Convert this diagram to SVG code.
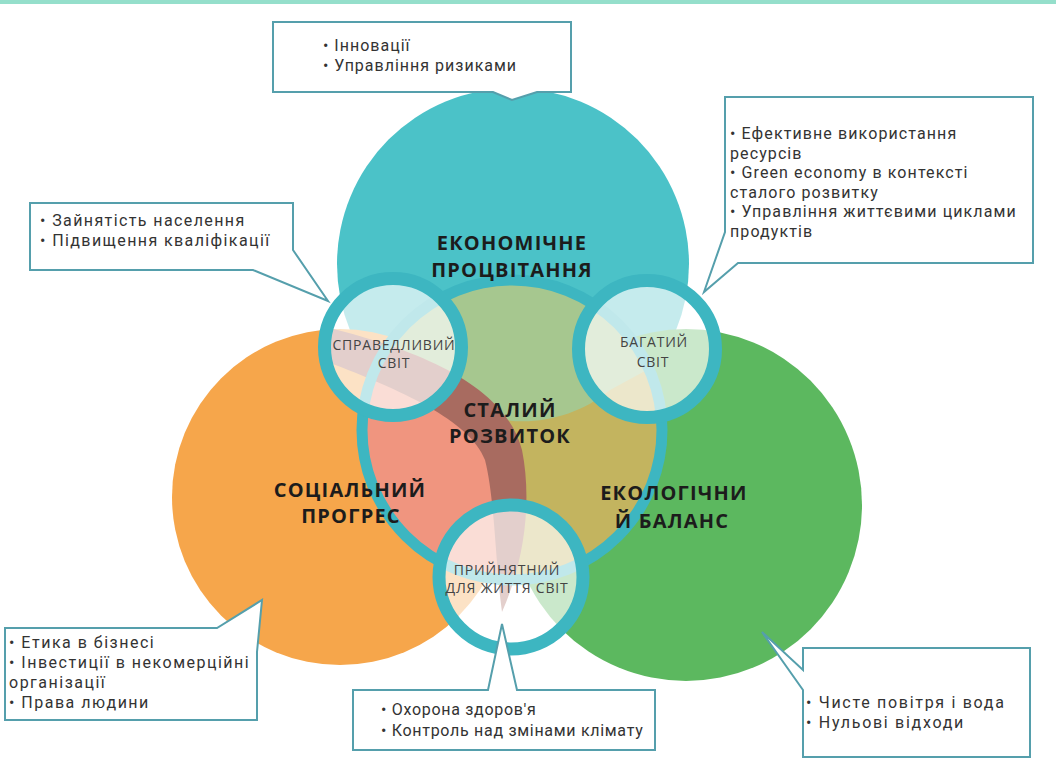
<svg xmlns="http://www.w3.org/2000/svg" width="1056" height="777" viewBox="0 0 1056 777">
<style>
.box{fill:#fff;stroke:#559fac;stroke-width:2;stroke-linejoin:miter}
.t{font-family:Roboto,"Liberation Sans",sans-serif;font-size:16px;fill:#333}
.h{font-family:"Open Sans","Liberation Sans",sans-serif;font-size:20px;font-weight:700;fill:#1c1c1c;text-anchor:middle;letter-spacing:1.2px}
.s{font-family:"Open Sans","Liberation Sans",sans-serif;font-size:14px;fill:#444;text-anchor:middle;letter-spacing:0.8px}
.lens{fill:#fff;fill-opacity:.68;stroke:#3db6c1;stroke-width:13}
</style>
<defs>
<clipPath id="inner"><circle cx="512" cy="430" r="150"/></clipPath>
</defs>
<rect width="1056" height="777" fill="#fff"/>
<rect width="1056" height="4" fill="#95dfcb"/>
<g id="economic"><circle cx="513" cy="264" r="176" fill="#4bc2c8"/></g>
<g id="social"><circle cx="340" cy="497" r="168" fill="#f6a64b"/></g>
<g id="ecological"><circle cx="686" cy="505" r="176" fill="#5cb85f"/></g>
<g id="sustainable">
 <g clip-path="url(#inner)">
  <rect x="350" y="270" width="330" height="320" fill="#a6c78f"/>
  <path d="M300,360 L450,395 L497,470 L502,720 L300,720 Z" fill="#f0957f"/>
  <path d="M505,420 C540,425 580,415 610,390 L720,330 L720,720 L505,720 Z" fill="#c3b45f"/>
 </g>
 <path d="M322,326 C420,350 505,385 522,450 C532,500 525,560 502,612 C495,560 495,500 485,460 C470,420 400,390 328,362 Z" fill="#a86b60"/>
 <circle cx="512" cy="430" r="150" fill="none" stroke="#3db6c1" stroke-width="11"/>
</g>
<g id="labels">
 <text class="h" x="512" y="250">ЕКОНОМІЧНЕ</text>
 <text class="h" x="512" y="277">ПРОЦВІТАННЯ</text>
 <text class="h" x="510" y="417">СТАЛИЙ</text>
 <text class="h" x="510" y="443">РОЗВИТОК</text>
 <text class="h" x="350" y="497">СОЦІАЛЬНИЙ</text>
 <text class="h" x="351" y="523">ПРОГРЕС</text>
 <text class="h" x="674" y="500">ЕКОЛОГІЧНИ</text>
 <text class="h" x="672" y="528">Й БАЛАНС</text>
</g>
<g id="fair-world">
 <circle class="lens" cx="393" cy="347" r="68.5"/>
 <text class="s" x="394" y="350">СПРАВЕДЛИВИЙ</text>
 <text class="s" x="394" y="368">СВІТ</text>
</g>
<g id="rich-world">
 <circle class="lens" cx="647" cy="349" r="68.5"/>
 <text class="s" x="654" y="347">БАГАТИЙ</text>
 <text class="s" x="653" y="367">СВІТ</text>
</g>
<g id="livable-world">
 <circle class="lens" cx="511" cy="577" r="72" stroke-width="14"/>
 <text class="s" x="507" y="575">ПРИЙНЯТНИЙ</text>
 <text class="s" x="507" y="593">ДЛЯ ЖИТТЯ СВІТ</text>
</g>
<g id="connectors"></g>
<g id="callout-top">
 <path class="box" d="M273,22 H571 V92 H537 L512,100 L493,92 H273 Z"/>
 <text class="t" letter-spacing="1"><tspan x="323" y="51">• Інновації</tspan><tspan x="323" y="71">• Управління ризиками</tspan></text>
</g>
<g id="callout-left">
 <path class="box" d="M30,203 H293 V250 L328,301 L253,270 H30 Z"/>
 <text class="t" letter-spacing="1.4"><tspan x="40" y="226">• Зайнятість населення</tspan><tspan x="40" y="246">• Підвищення кваліфікації</tspan></text>
</g>
<g id="callout-right">
 <path class="box" d="M725,97 H1033 V263 H738 L704,292 L725,232 Z"/>
 <text class="t" letter-spacing="1.1"><tspan x="730" y="139">• Ефективне використання</tspan><tspan x="730" y="158.5">ресурсів</tspan><tspan x="730" y="178">• Green economy в контексті</tspan><tspan x="730" y="197.5">сталого розвитку</tspan><tspan x="730" y="217">• Управління життєвими циклами</tspan><tspan x="730" y="236.5">продуктів</tspan></text>
</g>
<g id="callout-bottom-left">
 <path class="box" d="M5,628 H217 L262,600 L257,652 V720 H5 Z"/>
 <text class="t" letter-spacing="1.5"><tspan x="9" y="648">• Етика в бізнесі</tspan><tspan x="9" y="668">• Інвестиції в некомерційні</tspan><tspan x="9" y="688">організації</tspan><tspan x="9" y="708">• Права людини</tspan></text>
</g>
<g id="callout-bottom">
 <path class="box" d="M353,690 H488 L502,624 L517,690 H655 V750 H353 Z"/>
 <text class="t" letter-spacing="0.7"><tspan x="381" y="715">• Охорона здоров'я</tspan><tspan x="381" y="736">• Контроль над змінами клімату</tspan></text>
</g>
<g id="callout-bottom-right">
 <path class="box" d="M803,648 H1030 V757 H803 V690 L762,632 L803,670 Z"/>
 <text class="t" letter-spacing="1.7"><tspan x="806" y="708">• Чисте повітря і вода</tspan><tspan x="806" y="728">• Нульові відходи</tspan></text>
</g>
</svg>
